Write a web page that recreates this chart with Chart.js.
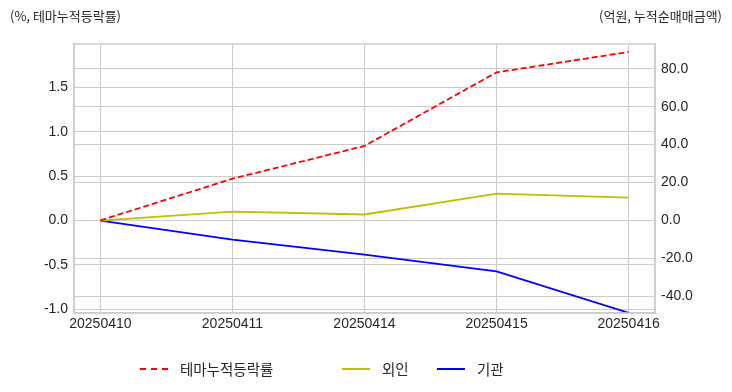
<!DOCTYPE html>
<html>
<head>
<meta charset="utf-8">
<script src="https://cdn.jsdelivr.net/npm/chart.js@4"></script>
<style>
  body { margin: 0; background: #fff; }
  #wrap { position: relative; width: 732px; height: 392px; font-family: "Liberation Sans", "Noto Sans CJK KR", sans-serif; color: #262626; }
  .ttl { position: absolute; top: 6px; font-size: 13px; font-family: "Noto Sans CJK KR", sans-serif; }
  #legend { position: absolute; top: 359px; left: 140px; font-size: 14.5px; font-family: "Noto Sans CJK KR", sans-serif; }
  .item { position: absolute; top: 0; white-space: nowrap; }
  .sw { position: absolute; top: 9px; width: 28px; height: 0; border-top: 2px solid; }
  .lb { position: absolute; left: 40px; top: 0; line-height: 20px; }
</style>
</head>
<body>
<div id="wrap">
  <canvas id="chart" width="732" height="392"></canvas>
  <div class="ttl" style="left:10px">(%, 테마누적등락률)</div>
  <div class="ttl" style="right:10px">(억원, 누적순매매금액)</div>
  <div id="legend">
    <div class="item" style="left:0"><div class="sw" style="border-top:2px dashed #ff0000"></div><div class="lb">테마누적등락률</div></div>
    <div class="item" style="left:202px"><div class="sw" style="border-color:#bfbf00"></div><div class="lb">외인</div></div>
    <div class="item" style="left:297px"><div class="sw" style="border-color:#0000ff"></div><div class="lb">기관</div></div>
  </div>
</div>
<script>
const dates = ["20250410", "20250411", "20250414", "20250415", "20250416"];
const themeRate = [0, 0.47, 0.84, 1.67, 1.9];
const foreign = [0, 4.7, 3.2, 14.2, 12.1];
const institution = [0, -10.0, -17.9, -26.8, -48.6];
const leftTicks = [-1.0, -0.5, 0.0, 0.5, 1.0, 1.5];
const rightTicks = [-40, -20, 0, 20, 40, 60, 80];

const toPoints = (arr) => arr.map((v, i) => ({ x: i, y: v }));
const gridColor = "#cccccc";
const tickFont = { family: "Liberation Sans", size: 14 };

// frame round the plot area (chart.js has no top spine)
const frame = {
  id: "frame",
  afterDraw(chart) {
    const { ctx, chartArea: a } = chart;
    ctx.save();
    ctx.strokeStyle = gridColor;
    ctx.lineWidth = 1.5;
    ctx.strokeRect(a.left, a.top, a.right - a.left, a.bottom - a.top);
    ctx.restore();
  },
};

new Chart(document.getElementById("chart"), {
  type: "line",
  data: {
    datasets: [
      {
        label: "테마누적등락률",
        data: toPoints(themeRate),
        yAxisID: "y",
        borderColor: "#ff0000",
        borderWidth: 1.8,
        borderDash: [6, 3],
        pointRadius: 0,
        fill: false,
      },
      {
        label: "외인",
        data: toPoints(foreign),
        yAxisID: "y2",
        borderColor: "#bfbf00",
        borderWidth: 1.8,
        pointRadius: 0,
        fill: false,
      },
      {
        label: "기관",
        data: toPoints(institution),
        yAxisID: "y2",
        borderColor: "#0000ff",
        borderWidth: 1.8,
        pointRadius: 0,
        fill: false,
      },
    ],
  },
  options: {
    responsive: false,
    animation: false,
    layout: { padding: { top: 44, left: 0, right: 0, bottom: 0 } },
    plugins: {
      legend: { display: false },
      tooltip: { enabled: false },
    },
    scales: {
      x: {
        type: "linear",
        min: -0.2,
        max: 4.2,
        afterBuildTicks: (scale) => {
          scale.ticks = dates.map((d, i) => ({ value: i }));
        },
        afterFit: (scale) => {
          scale.height = 79;
        },
        grid: { color: gridColor, drawTicks: false },
        border: { color: gridColor, width: 1.5 },
        ticks: {
          padding: 3,
          font: tickFont,
          color: "#262626",
          maxRotation: 0,
          callback: (value) => dates[value],
        },
      },
      y: {
        position: "left",
        min: -1.045,
        max: 1.99,
        afterBuildTicks: (scale) => {
          scale.ticks = leftTicks.map((v) => ({ value: v }));
        },
        afterFit: (scale) => {
          scale.width = 74;
        },
        grid: { color: gridColor, drawTicks: false },
        border: { color: gridColor, width: 1.5 },
        ticks: {
          padding: 6,
          font: tickFont,
          color: "#262626",
          callback: (value) => value.toFixed(1),
        },
      },
      y2: {
        position: "right",
        min: -48.7,
        max: 93,
        afterBuildTicks: (scale) => {
          scale.ticks = rightTicks.map((v) => ({ value: v }));
        },
        afterFit: (scale) => {
          scale.width = 77;
        },
        grid: { color: gridColor, drawTicks: false },
        border: { color: gridColor, width: 1.5 },
        ticks: {
          padding: 6,
          font: tickFont,
          color: "#262626",
          callback: (value) => value.toFixed(1),
        },
      },
    },
  },
  plugins: [frame],
});
</script>
</body>
</html>
